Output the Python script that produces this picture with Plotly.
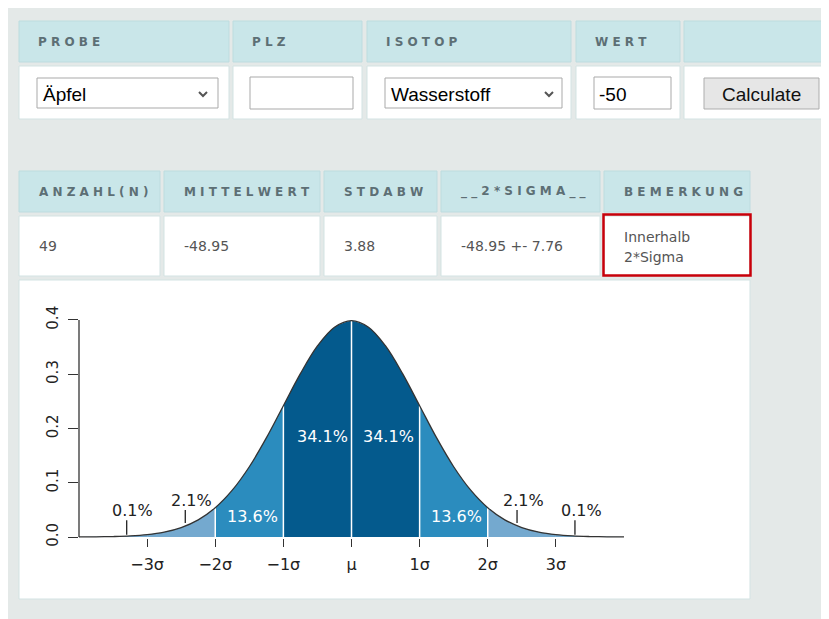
import plotly.graph_objects as go

OFF = 8  # browser body margin
W, H = 829 - OFF, 619 - OFF

# form row
form_headers = ["PROBE", "PLZ", "ISOTOP", "WERT", ""]
probe_value = "Äpfel"
isotop_value = "Wasserstoff"
wert_value = "-50"
button_label = "Calculate"

# result row
stat_headers = ["ANZAHL(N)", "MITTELWERT", "STDABW", "__2*SIGMA__", "BEMERKUNG"]
stat_values = ["49", "-48.95", "3.88", "-48.95 +- 7.76", "Innerhalb<br>2*Sigma"]

# normal curve, read at quarter-sigma steps
z = [-4.0, -3.75, -3.5, -3.25, -3.0, -2.75, -2.5, -2.25, -2.0, -1.75, -1.5, -1.25,
     -1.0, -0.75, -0.5, -0.25, 0.0, 0.25, 0.5, 0.75, 1.0, 1.25, 1.5, 1.75,
     2.0, 2.25, 2.5, 2.75, 3.0, 3.25, 3.5, 3.75, 4.0]
density = [0.0001, 0.0004, 0.0009, 0.0020, 0.0044, 0.0091, 0.0175, 0.0317,
           0.0540, 0.0863, 0.1295, 0.1826, 0.2420, 0.3011, 0.3521, 0.3867,
           0.3989, 0.3867, 0.3521, 0.3011, 0.2420, 0.1826, 0.1295, 0.0863,
           0.0540, 0.0317, 0.0175, 0.0091, 0.0044, 0.0020, 0.0009, 0.0004, 0.0001]

band_edges = [-4, -3, -2, -1, 0, 1, 2, 3, 4]
band_pcts = ["0.1%", "2.1%", "13.6%", "34.1%", "34.1%", "13.6%", "2.1%", "0.1%"]
sigma_ticks = [-3, -2, -1, 0, 1, 2, 3]
sigma_labels = ["\u22123σ", "\u22122σ", "\u22121σ", "μ", "1σ", "2σ", "3σ"]
density_ticks = [0, 0.1, 0.2, 0.3, 0.4]
density_labels = ["0.0", "0.1", "0.2", "0.3", "0.4"]

DARK, MID, LIGHT = "#045a8d", "#2b8cbe", "#74a9cf"
band_colors = [LIGHT, LIGHT, MID, DARK, DARK, MID, LIGHT, LIGHT]
HEAD_BG = "#c9e6e9"
PAGE_BG = "#e4e9e8"
HEAD_TXT = "#5d6f75"
CELL_TXT = "#555555"


def fx(x):
    return (x - OFF) / W


def fy(y):
    return 1 - (y - OFF) / H


shapes = []
annotations = []


def rect(x0, y0, x1, y1, fill, line="rgba(0,0,0,0)", lw=0):
    shapes.append(dict(type="rect", xref="paper", yref="paper", layer="below",
                       x0=fx(x0), x1=fx(x1), y0=fy(y1), y1=fy(y0),
                       fillcolor=fill, line=dict(color=line, width=lw)))


def text(x, y, s, size, color, family="DejaVu Sans", anchor="left", weight="normal"):
    annotations.append(dict(xref="paper", yref="paper", x=fx(x), y=fy(y), text=s,
                            showarrow=False, xanchor=anchor, yanchor="middle",
                            font=dict(family=family, size=size, color=color, weight=weight)))


def chevron(cx, cy):
    shapes.append(dict(type="path", xref="paper", yref="paper", layer="below",
                       path=f"M {fx(cx-4)},{fy(cy-2)} L {fx(cx)},{fy(cy+2)} L {fx(cx+4)},{fy(cy-2)}",
                       line=dict(color="#555555", width=2)))


def spaced(s):
    return " ".join(list(s))


# form table
form_cols = [(19, 229), (233, 362), (367, 571), (576, 680), (684, 840)]
for (a, b), h in zip(form_cols, form_headers):
    rect(a, 21, b, 62, HEAD_BG, "#bddcdf", 1)
    rect(a, 66, b, 119, "white", "#d3e3e3", 1)
    if h:
        text(a + 17, 42, spaced(h), 12, HEAD_TXT, weight="bold")

# controls
rect(37, 78, 218, 108, "white", "#a9a9a9", 1)
text(41, 94, probe_value, 19, "black", "Liberation Sans")
chevron(203, 94)
rect(250, 77, 353, 109, "white", "#a9a9a9", 1)
rect(385, 78, 562, 108, "white", "#a9a9a9", 1)
text(389, 94, isotop_value, 19, "black", "Liberation Sans")
chevron(549, 94)
rect(594, 77, 671, 109, "white", "#a9a9a9", 1)
text(597, 94, wert_value, 19, "black", "Liberation Sans")
rect(704, 78, 819, 109, "#e6e6e6", "#adadad", 1)
text(761.5, 94, button_label, 19, "#111111", "Liberation Sans", anchor="center")

# result table
stat_cols = [(19, 160), (164, 320), (324, 437), (441, 600), (604, 750)]
for (a, b), h, v in zip(stat_cols, stat_headers, stat_values):
    rect(a, 171, b, 212, HEAD_BG, "#bddcdf", 1)
    rect(a, 216, b, 276, "white", "#d3e3e3", 1)
    text(a + 18, 192, spaced(h), 12, HEAD_TXT, weight="bold")
    lines = v.split("<br>")
    if len(lines) == 1:
        text(a + 18, 246, v, 14, CELL_TXT)
    else:
        for k, ln in enumerate(lines):
            text(a + 18, 237 + 20 * k, ln, 14, CELL_TXT)

# red remark frame
shapes.append(dict(type="rect", xref="paper", yref="paper", layer="below",
                   x0=fx(603.5), x1=fx(750.5), y0=fy(275.5), y1=fy(214.5),
                   fillcolor="rgba(0,0,0,0)", line=dict(color="#c8000a", width=2.5)))

# chart panel
rect(19, 280, 750, 599, "white", "#d3e3e3", 1)

fig = go.Figure()

for k in range(len(band_pcts)):
    i0 = z.index(band_edges[k])
    i1 = z.index(band_edges[k + 1])
    fig.add_trace(go.Scatter(
        x=z[i0:i1 + 1], y=density[i0:i1 + 1], mode="lines", fill="tozeroy",
        fillcolor=band_colors[k], line=dict(width=0, shape="spline"), hoverinfo="skip"))

for e in [-2, -1, 0, 1, 2]:
    fig.add_trace(go.Scatter(x=[e, e], y=[0, density[z.index(e)]], mode="lines",
                             line=dict(color="white", width=1.5), hoverinfo="skip"))

fig.add_trace(go.Scatter(x=z, y=density, mode="lines",
                         line=dict(color="#333333", width=1.3, shape="spline"), hoverinfo="skip"))

# label leaders
for lx, ly0, ly1 in [(-2.44, 0.026, 0.05), (-3.30, 0.004, 0.031),
                     (2.43, 0.026, 0.05), (3.28, 0.004, 0.031)]:
    fig.add_trace(go.Scatter(x=[lx, lx], y=[ly0, ly1], mode="lines",
                             line=dict(color="#222222", width=1.3), hoverinfo="skip"))

pct_pos = [(-3.21, 0.048), (-2.35, 0.068), (-1.45, 0.037), (-0.42, 0.186),
           (0.55, 0.186), (1.54, 0.037), (2.52, 0.068), (3.37, 0.048)]
for (px_, py_), s, c in zip(pct_pos, band_pcts, band_colors):
    col = "#222222" if c == LIGHT else "white"
    annotations.append(dict(xref="x", yref="y", x=px_, y=py_, text=s, showarrow=False,
                            xanchor="center", yanchor="middle",
                            font=dict(family="DejaVu Sans", size=16, color=col)))

# y axis line
shapes.append(dict(type="line", xref="paper", yref="y", x0=fx(79), x1=fx(79), y0=0, y1=0.4,
                   line=dict(color="#333333", width=1.3)))

fig.update_layout(
    width=W, height=H, autosize=False,
    margin=dict(l=0, r=0, t=0, b=0, pad=0),
    paper_bgcolor=PAGE_BG, plot_bgcolor="rgba(0,0,0,0)",
    showlegend=False,
    shapes=shapes, annotations=annotations,
    xaxis=dict(domain=[fx(79), fx(624)], range=[-4, 4], showgrid=False, zeroline=False,
               showline=False, ticks="outside", ticklen=8, tickwidth=1.3, tickcolor="#333333",
               tickvals=sigma_ticks, ticktext=sigma_labels, ticklabelstandoff=4, automargin=False,
               tickfont=dict(family="DejaVu Sans", size=16, color="#222222"), fixedrange=True),
    yaxis=dict(domain=[fy(538.1), fy(318.9)], range=[-0.002, 0.402], showgrid=False,
               zeroline=False, showline=False, ticks="outside", ticklen=10, tickwidth=1.3,
               tickcolor="#333333", tickvals=density_ticks, ticktext=density_labels,
               tickangle=-90, ticklabelstandoff=4, automargin=False,
               tickfont=dict(family="DejaVu Sans", size=15, color="#222222"),
               fixedrange=True),
)

fig.write_html("out.html")
